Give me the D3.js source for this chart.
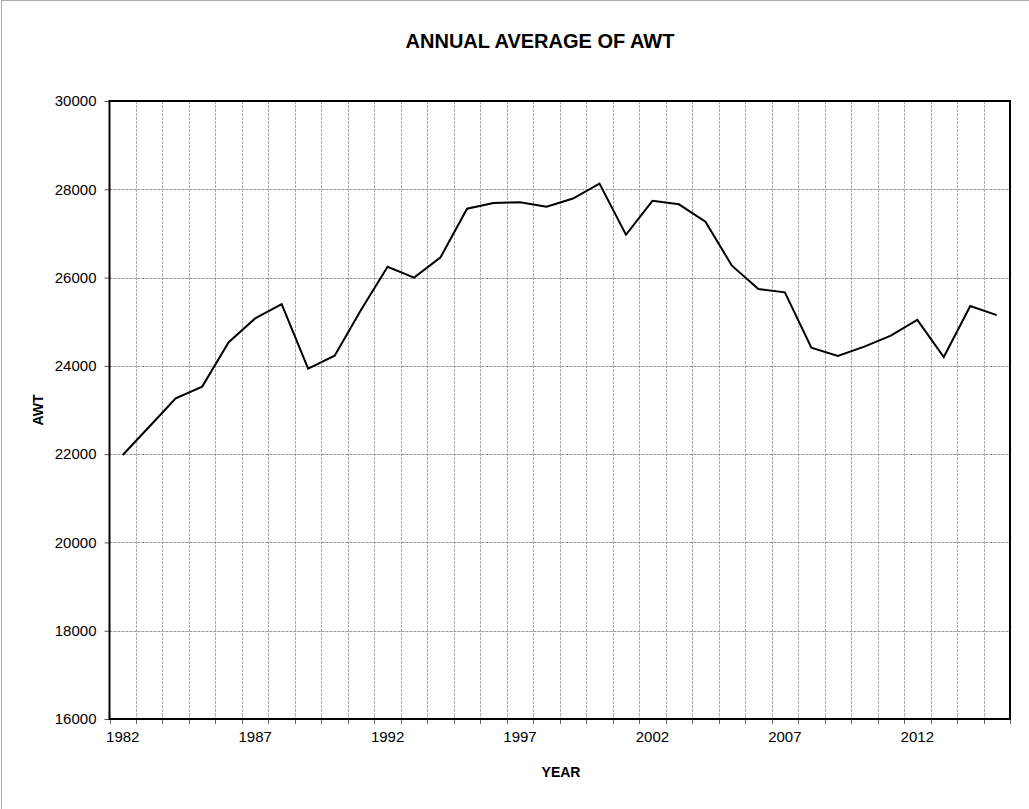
<html>
<head>
  <meta charset="UTF-8">
  <title>Annual average of AWT</title>
  <script src="https://d3js.org/d3.v7.min.js"></script>
  <style>
    body { margin: 0; background-color: white; }
    text { font-family: "Liberation Sans", Arial, sans-serif; fill: black; }
  </style>
</head>
<body>
  <svg></svg>
</body>
<script>
  // data
  let years = d3.range(1982, 2016);
  let awt = [21980, 22620, 23265, 23530, 24535, 25075, 25400, 23935, 24230, 25270,
    26245, 26000, 26460, 27560, 27690, 27705, 27605, 27790, 28130, 26970,
    27740, 27660, 27265, 26270, 25740, 25665, 24410, 24225, 24435, 24685,
    25040, 24200, 25355, 25150];
  let yTicks = [16000, 18000, 20000, 22000, 24000, 26000, 28000, 30000];
  let labelYears = [1982, 1987, 1992, 1997, 2002, 2007, 2012];

  let width = 1029, height = 809;
  let plotLeft = 109.5, plotRight = 1010, plotTop = 101, plotBottom = 719;

  let svg = d3.select("svg")
    .attr("width", width)
    .attr("height", height);

  // outer chart border
  svg.append("rect")
    .attr("x", 1.5).attr("y", 0.5)
    .attr("width", 1040).attr("height", 820)
    .attr("fill", "white")
    .attr("stroke", "#aaa");

  let x = d3.scaleBand().domain(years).range([plotLeft, plotRight]).padding(0);
  let y = d3.scaleLinear().domain([16000, 30000]).range([plotBottom, plotTop]);

  // vertical grid at category boundaries
  let bounds = years.map(d => x(d)).concat([plotRight]);
  svg.append("g")
    .selectAll("line")
    .data(bounds.slice(1, -1))
    .enter()
    .append("line")
    .attr("x1", d => Math.round(d) + 0.5).attr("x2", d => Math.round(d) + 0.5)
    .attr("y1", plotTop).attr("y2", plotBottom)
    .attr("stroke", "#aaa")
    .attr("stroke-dasharray", "3,1");

  // horizontal grid
  svg.append("g")
    .selectAll("line")
    .data(yTicks.slice(1, -1))
    .enter()
    .append("line")
    .attr("x1", plotLeft).attr("x2", plotRight)
    .attr("y1", d => Math.round(y(d)) + 0.5).attr("y2", d => Math.round(y(d)) + 0.5)
    .attr("stroke", "#999")
    .attr("stroke-dasharray", "3,1");

  // y axis
  let yAxis = svg.append("g")
    .attr("transform", "translate(" + plotLeft + ",0)")
    .call(d3.axisLeft(y).tickValues(yTicks).tickSize(5).tickPadding(8).tickFormat(d3.format("d")));
  yAxis.select(".domain").remove();
  yAxis.selectAll(".tick line").attr("stroke", "#555");
  yAxis.selectAll("text").style("font-size", "15px").style("font-family", "Liberation Sans, Arial, sans-serif");

  // x tick marks at boundaries
  svg.append("g")
    .selectAll("line")
    .data(bounds)
    .enter()
    .append("line")
    .attr("x1", d => Math.round(d) + 0.5).attr("x2", d => Math.round(d) + 0.5)
    .attr("y1", plotBottom).attr("y2", plotBottom + 5)
    .attr("stroke", "#666");

  // x labels
  let xAxis = svg.append("g")
    .attr("transform", "translate(0," + plotBottom + ")")
    .call(d3.axisBottom(x).tickValues(labelYears).tickSize(0).tickPadding(12));
  xAxis.select(".domain").remove();
  xAxis.selectAll("text").style("font-size", "15px").style("font-family", "Liberation Sans, Arial, sans-serif");

  // plot frame
  svg.append("rect")
    .attr("x", plotLeft).attr("y", plotTop)
    .attr("width", plotRight - plotLeft).attr("height", plotBottom - plotTop)
    .attr("fill", "none")
    .attr("stroke", "black")
    .attr("stroke-width", 2);

  // series line
  let line = d3.line()
    .x((d, i) => x(years[i]) + x.bandwidth() / 2)
    .y(d => y(d));

  svg.append("path")
    .datum(awt)
    .attr("d", line)
    .attr("fill", "none")
    .attr("stroke", "black")
    .attr("stroke-width", 2);

  // titles
  svg.append("text")
    .attr("x", 540).attr("y", 48)
    .attr("text-anchor", "middle")
    .style("font-size", "20px").style("font-weight", "bold")
    .text("ANNUAL AVERAGE OF AWT");

  svg.append("text")
    .attr("x", 561).attr("y", 777)
    .attr("text-anchor", "middle")
    .style("font-size", "14px").style("font-weight", "bold")
    .text("YEAR");

  svg.append("text")
    .attr("transform", "translate(43,410) rotate(-90)")
    .attr("text-anchor", "middle")
    .style("font-size", "14px").style("font-weight", "bold")
    .text("AWT");
</script>
</html>
